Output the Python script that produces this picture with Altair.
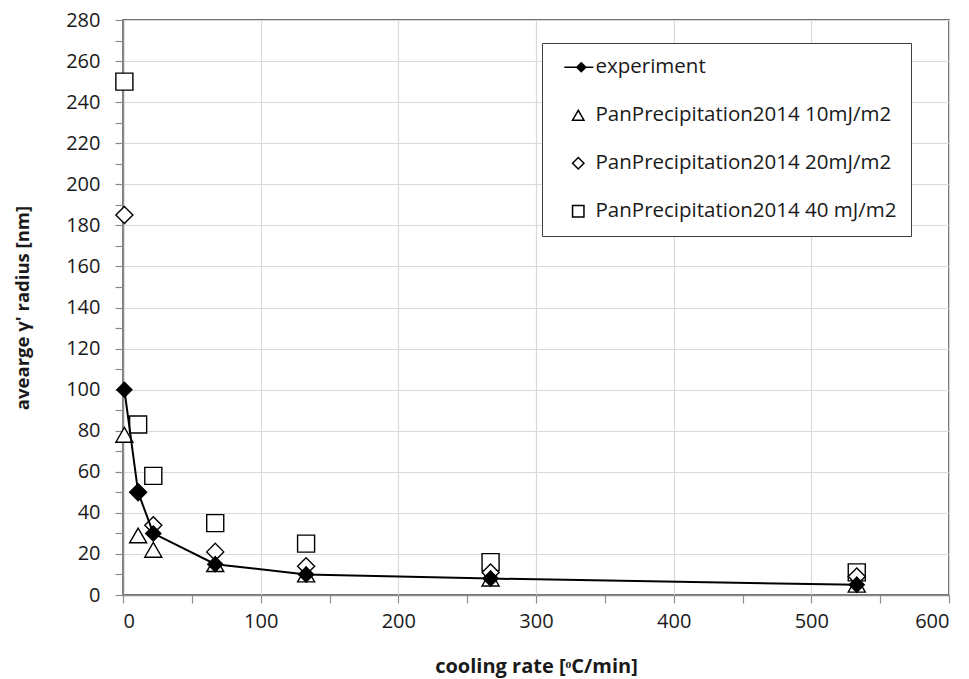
import altair as alt
import pandas as pd

# ---- data ----
series_names = ["experiment", "PanPrecipitation2014 10mJ/m2",
                "PanPrecipitation2014 20mJ/m2", "PanPrecipitation2014 40 mJ/m2"]

exp_rate = [1, 11, 22, 67, 133, 267, 533]
exp_radius = [100, 50, 30, 15, 10, 8, 5]

p10_rate = [1, 11, 22, 67, 133, 267, 533]
p10_radius = [78, 29, 22, 15, 10, 8, 5]

p20_rate = [1, 11, 22, 67, 133, 267, 533]
p20_radius = [185, 50, 34, 21, 14, 11, 9]

p40_rate = [1, 11, 22, 67, 133, 267, 533]
p40_radius = [250, 83, 58, 35, 25, 16, 11]

x_ticks = list(range(0, 601, 50))
y_ticks = list(range(0, 281, 10))

FONT = "Open Sans"

exp_df = pd.DataFrame({"rate": exp_rate, "radius": exp_radius, "series": series_names[0]})
hollow_df = pd.concat([
    pd.DataFrame({"rate": p40_rate, "radius": p40_radius, "series": series_names[3]}),
    pd.DataFrame({"rate": p20_rate, "radius": p20_radius, "series": series_names[2]}),
    pd.DataFrame({"rate": p10_rate, "radius": p10_radius, "series": series_names[1]}),
], ignore_index=True)

exp_legend_path = "M-2.45,0H2.65M0.53,-0.8L1.33,0L0.53,0.8L-0.27,0Z"
shape_scale = alt.Scale(domain=series_names,
                        range=[exp_legend_path, "triangle-up", "diamond", "square"])
fill_scale = alt.Scale(domain=series_names, range=["black", "white", "white", "white"])
stroke_scale = alt.Scale(domain=series_names, range=["black", "black", "black", "black"])

x_enc = alt.X("rate:Q", scale=alt.Scale(domain=[0, 600], nice=False),
              axis=alt.Axis(values=x_ticks, title="cooling rate [ᵒC/min]",
                            labelExpr="datum.value % 100 === 0 ? datum.label : ''",
                            gridOpacity={"condition": {"test": "datum.value % 100 === 0", "value": 1}, "value": 0},
                            labelOverlap=False))
y_enc = alt.Y("radius:Q", scale=alt.Scale(domain=[0, 280], nice=False),
              axis=alt.Axis(values=y_ticks, title="avearge γ' radius [nm]",
                            labelExpr="datum.value % 20 === 0 ? datum.label : ''",
                            gridOpacity={"condition": {"test": "datum.value % 20 === 0", "value": 1}, "value": 0},
                            labelOverlap=False))

legend = alt.Legend(title=None)

hollow = alt.Chart(hollow_df).mark_point(fillOpacity=1, strokeWidth=1.4,
                                         opacity=1, size=290).encode(
    x=x_enc, y=y_enc,
    shape=alt.Shape("series:N", scale=shape_scale, legend=legend),
    fill=alt.Fill("series:N", scale=fill_scale, legend=legend),
    stroke=alt.Stroke("series:N", scale=stroke_scale, legend=legend),
)

line = alt.Chart(exp_df).mark_line(color="black", strokeWidth=2).encode(x=x_enc, y=y_enc)

exp_pts = alt.Chart(exp_df).mark_point(shape="diamond", filled=True, color="black",
                                       size=290, opacity=1).encode(x=x_enc, y=y_enc)

chart = alt.layer(hollow, line, exp_pts).properties(
    width=826, height=575,
    autosize=alt.AutoSizeParams(type="none"),
    padding={"left": 115, "top": 12, "right": 12, "bottom": 90},
).configure_view(
    stroke="#404040", strokeWidth=1.5
).configure_axis(
    labelFont=FONT, labelFontSize=20, labelColor="#1a1a1a",
    titleFont=FONT, titleFontWeight="bold", titleColor="#1a1a1a",
    gridColor="#d9d9d9", gridWidth=1.2,
    domainColor="#8c8c8c", domainWidth=1.5,
    tickColor="#8c8c8c", tickSize=8, tickWidth=1.2,
).configure_axisY(
    labelPadding=15, titlePadding=33, titleFontSize=18.5
).configure_axisX(
    labelPadding=8, titlePadding=25, titleFontSize=20
).configure_legend(
    orient="none", legendX=419, legendY=23,
    fillColor="white", strokeColor="#404040",
    padding=14, rowPadding=27,
    labelFont=FONT, labelFontSize=20.5, labelColor="#1a1a1a", labelLimit=500,
    symbolSize=130, symbolStrokeWidth=1.5,
    symbolOffset=12, labelOffset=7,
)

chart.save("out.html", embed_options={"renderer": "svg", "actions": False})
